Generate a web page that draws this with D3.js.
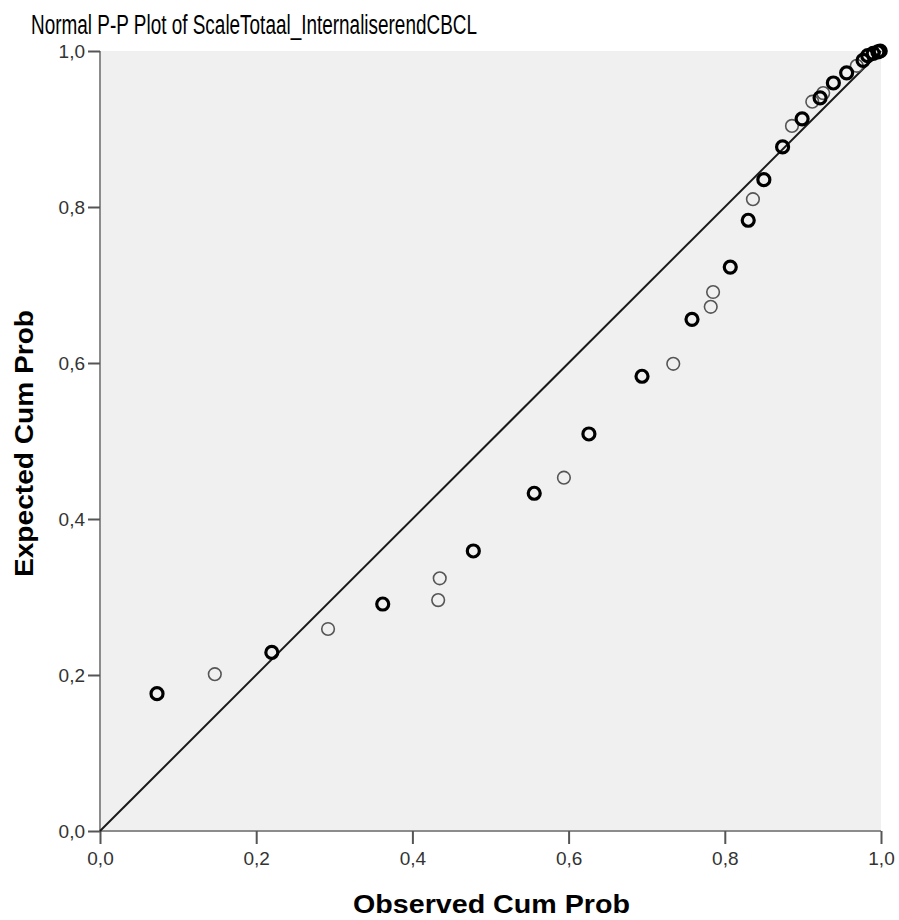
<!DOCTYPE html>
<html>
<head>
<meta charset="utf-8">
<script src="https://cdn.jsdelivr.net/npm/d3@7"></script>
<style>
  html, body { margin: 0; padding: 0; background: #ffffff; }
  svg { display: block; }
</style>
</head>
<body>
<svg id="chart" width="899" height="920"></svg>
<script>
// ---- data ----
const titleText = "Normal P-P Plot of ScaleTotaal_InternaliserendCBCL";
const xLabel = "Observed Cum Prob";
const yLabel = "Expected Cum Prob";
const tickValues = [0, 0.2, 0.4, 0.6, 0.8, 1.0];
const tickLabels = ["0,0", "0,2", "0,4", "0,6", "0,8", "1,0"];

// overlapping (darker) points
const boldObserved = [0.073, 0.220, 0.362, 0.478, 0.556, 0.626, 0.694, 0.758, 0.807, 0.830, 0.850, 0.874, 0.899, 0.922, 0.939, 0.956, 0.977, 0.983, 0.990, 0.996, 0.999];
const boldExpected = [0.176, 0.229, 0.291, 0.359, 0.433, 0.509, 0.583, 0.656, 0.723, 0.783, 0.835, 0.877, 0.913, 0.940, 0.959, 0.972, 0.988, 0.994, 0.997, 0.999, 1.000];
// single (lighter) points
const lightObserved = [0.147, 0.292, 0.433, 0.435, 0.594, 0.734, 0.782, 0.785, 0.836, 0.886, 0.912, 0.926, 0.969];
const lightExpected = [0.201, 0.259, 0.296, 0.324, 0.453, 0.599, 0.672, 0.691, 0.810, 0.904, 0.935, 0.946, 0.981];

// ---- layout ----
const svg = d3.select("#chart");
const pLeft = 100, pRight = 881, pTop = 51, pBottom = 831;

const x = d3.scaleLinear().domain([0, 1]).range([pLeft, pRight]);
const y = d3.scaleLinear().domain([0, 1]).range([pBottom, pTop]);

// background
svg.append("rect")
  .attr("x", pLeft).attr("y", pTop)
  .attr("width", pRight - pLeft).attr("height", pBottom - pTop)
  .attr("fill", "#f0f0f0");

// title
svg.append("text")
  .attr("x", 31).attr("y", 34)
  .attr("font-family", "'Liberation Sans Narrow', 'Liberation Sans', Arial, sans-serif")
  .attr("font-size", 27)
  .attr("fill", "#000")
  .attr("textLength", 446)
  .attr("lengthAdjust", "spacingAndGlyphs")
  .text(titleText);

// axes
const fmt = d => tickLabels[tickValues.indexOf(d)];
const xAxis = d3.axisBottom(x).tickValues(tickValues).tickFormat(fmt).tickSize(13).tickPadding(8);
const yAxis = d3.axisLeft(y).tickValues(tickValues).tickFormat(fmt).tickSize(12).tickPadding(3);

const gx = svg.append("g").attr("transform", `translate(0,${pBottom})`).call(xAxis);
const gy = svg.append("g").attr("transform", `translate(${pLeft},0)`).call(yAxis);

[gx, gy].forEach(g => {
  g.select(".domain").attr("stroke", "#8c8c8c").attr("stroke-width", 2);
  g.selectAll(".tick line").attr("stroke", "#555").attr("stroke-width", 2);
  g.selectAll(".tick text")
    .attr("font-family", "'Liberation Sans', Arial, sans-serif")
    .attr("font-size", 19)
    .attr("fill", "#333");
});
gx.select(".domain").attr("d", `M${pLeft},0H${pRight}`);
gy.select(".domain").attr("d", `M0,${pBottom}V${pTop}`);

// diagonal reference line
svg.append("line")
  .attr("x1", x(0)).attr("y1", y(0))
  .attr("x2", x(1)).attr("y2", y(1))
  .attr("stroke", "#1a1a1a").attr("stroke-width", 2);

// points
const lightData = lightObserved.map((v, i) => ({ o: v, e: lightExpected[i] }));
const boldData = boldObserved.map((v, i) => ({ o: v, e: boldExpected[i] }));

svg.append("g").selectAll("circle").data(lightData).join("circle")
  .attr("cx", d => x(d.o)).attr("cy", d => y(d.e))
  .attr("r", 6.3)
  .attr("fill", "none")
  .attr("stroke", "#555")
  .attr("stroke-width", 1.6);

svg.append("g").selectAll("circle").data(boldData).join("circle")
  .attr("cx", d => x(d.o)).attr("cy", d => y(d.e))
  .attr("r", 6)
  .attr("fill", "none")
  .attr("stroke", "#000")
  .attr("stroke-width", 3.2);

// axis titles
svg.append("text")
  .attr("x", 491.5).attr("y", 913)
  .attr("text-anchor", "middle")
  .attr("font-family", "'Liberation Sans', Arial, sans-serif")
  .attr("font-weight", "bold")
  .attr("font-size", 25)
  .attr("fill", "#000")
  .attr("textLength", 277)
  .attr("lengthAdjust", "spacingAndGlyphs")
  .text(xLabel);

svg.append("text")
  .attr("transform", `translate(33,443.5) rotate(-90)`)
  .attr("text-anchor", "middle")
  .attr("font-family", "'Liberation Sans', Arial, sans-serif")
  .attr("font-weight", "bold")
  .attr("font-size", 25)
  .attr("fill", "#000")
  .attr("textLength", 267)
  .attr("lengthAdjust", "spacingAndGlyphs")
  .text(yLabel);
</script>
</body>
</html>
